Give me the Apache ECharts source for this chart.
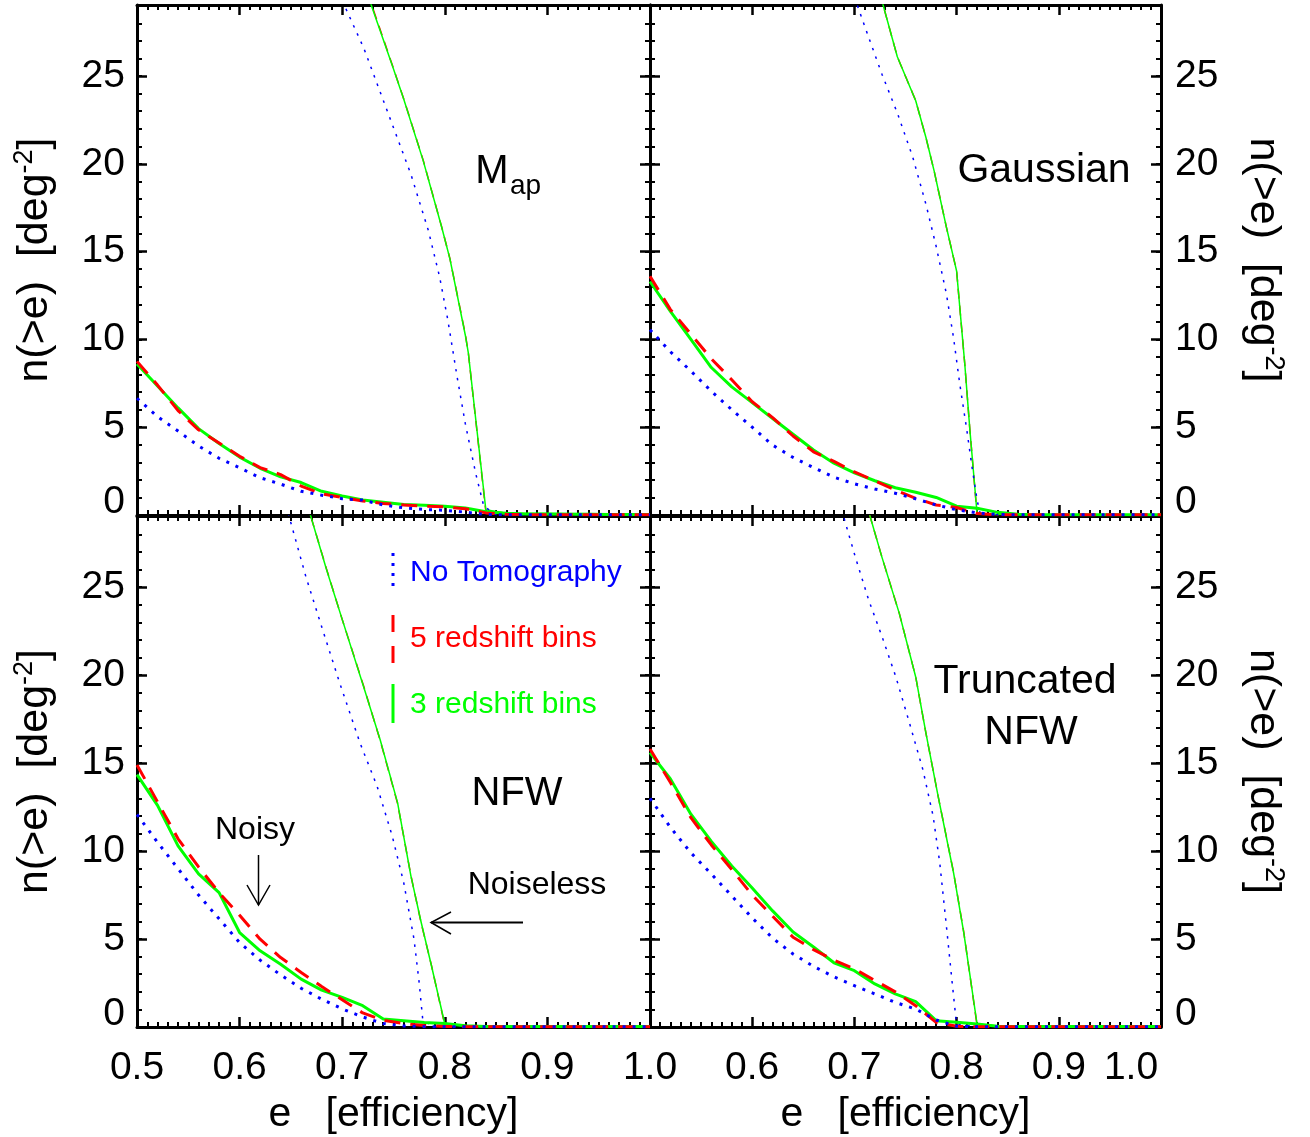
<!DOCTYPE html>
<html><head><meta charset="utf-8">
<script src="https://cdn.jsdelivr.net/npm/echarts@6/dist/echarts.min.js"></script>
<style>html,body{margin:0;padding:0;background:#fff;} #c{width:1310px;height:1137px;}</style>
</head><body><div id="c"></div>
<script>
// ---------- DATA ----------
// efficiency grid of the noisy curves
const E_GRID = [0.50,0.52,0.54,0.56,0.58,0.60,0.62,0.64,0.66,0.68,0.70,0.72,0.74,0.76,0.78,0.80,0.82,0.84,0.86,0.88,0.90,0.92,0.94,0.96,0.98,1.00];

// Panel 1: M_ap
const mapNoisyBlue  = [6.65,5.6,4.78,3.93,3.23,2.69,2.12,1.76,1.35,1.13,0.93,0.85,0.57,0.41,0.31,0.27,0.16,0.03,0.01,0.01,0.01,0.01,0.01,0.01,0.01,0.01];
const mapNoisyRed   = [8.75,7.4,5.95,4.85,4.1,3.35,2.7,2.3,1.65,1.2,1.0,0.8,0.66,0.57,0.5,0.46,0.36,0.12,0.04,0.02,0.02,0.02,0.02,0.02,0.02,0.02];
const mapNoisyGreen = [8.6,7.35,6.1,4.92,4.07,3.3,2.66,2.17,1.85,1.35,1.08,0.85,0.72,0.6,0.55,0.5,0.4,0.19,0.1,0.06,0.05,0.04,0.04,0.03,0.03,0.03];
const mapCleanBlueE  = [0.70,0.721,0.744,0.767,0.784,0.795,0.803,0.812,0.820,0.830,0.838,0.85,1.00];
const mapCleanBlueN  = [29.3,26.6,23.0,19.4,16.2,13.55,11.09,7.87,5.2,2.4,0.5,0.02,0.01];
const mapCleanRedE   = [0.725,0.749,0.760,0.779,0.797,0.805,0.820,0.823,0.840,0.86,1.00];
const mapCleanRedN   = [29.7,25.6,23.7,20.2,16.4,14.6,10.3,9.2,0.2,0.05,0.02];
const mapCleanGreenE = [0.725,0.749,0.760,0.779,0.797,0.805,0.820,0.823,0.840,0.86,1.00];
const mapCleanGreenN = [29.6,25.57,23.68,20.17,16.39,14.59,10.24,9.2,0.3,0.1,0.05];

// Panel 2: Gaussian
const gauNoisyBlue  = [10.55,9.3,8.2,7.05,6.0,5.0,3.98,3.28,2.7,2.15,1.78,1.48,1.24,0.92,0.57,0.3,0.12,0.03,0.01,0.01,0.01,0.01,0.01,0.01,0.01,0.01];
const gauNoisyRed   = [13.6,11.7,10.3,8.9,7.7,6.45,5.55,4.5,3.6,3.05,2.45,1.95,1.42,0.95,0.57,0.43,0.08,0.01,0.01,0.01,0.01,0.01,0.01,0.01,0.01,0.01];
const gauNoisyGreen = [13.3,11.6,10.0,8.4,7.3,6.4,5.5,4.6,3.7,2.95,2.4,1.95,1.55,1.3,1.0,0.5,0.38,0.15,0.04,0.02,0.02,0.02,0.02,0.02,0.02,0.02];
const gauCleanBlueE  = [0.70,0.714,0.727,0.742,0.757,0.770,0.780,0.790,0.797,0.803,0.810,0.815,0.820,0.823,0.84,1.00];
const gauCleanBlueN  = [29.5,27.2,25.1,22.9,20.4,17.7,15.3,12.6,10.1,7.5,4.84,2.76,0.87,0.1,0.02,0.01];
const gauCleanRedE   = [0.725,0.742,0.760,0.770,0.778,0.790,0.798,0.800,0.808,0.813,0.820,0.84,1.00];
const gauCleanRedN   = [29.7,26.1,23.6,21.5,19.6,16.4,14.4,13.9,8.6,4.84,0.05,0.01,0.01];
const gauCleanGreenE = [0.725,0.742,0.760,0.770,0.778,0.790,0.798,0.800,0.808,0.813,0.820,0.84,1.00];
const gauCleanGreenN = [29.7,26.1,23.6,21.5,19.6,16.4,14.4,13.9,8.6,4.84,0.1,0.03,0.02];

// Panel 3: NFW
const nfwNoisyBlue  = [12.08,10.5,9.0,7.5,6.15,4.8,3.8,2.96,2.2,1.58,1.03,0.57,0.2,0.06,0.02,0.01,0.01,0.01,0.01,0.01,0.01,0.01,0.01,0.01,0.01,0.01];
const nfwNoisyRed   = [14.9,12.8,10.7,9.1,7.64,6.35,4.99,3.95,3.1,2.3,1.55,0.8,0.38,0.2,0.08,0.03,0.01,0.01,0.01,0.01,0.01,0.01,0.01,0.01,0.01,0.01];
const nfwNoisyGreen = [14.35,12.6,10.3,8.7,7.64,5.37,4.33,3.57,2.72,2.1,1.68,1.21,0.45,0.36,0.26,0.2,0.07,0.03,0.03,0.03,0.03,0.03,0.03,0.03,0.03,0.03];
const nfwCleanBlueE  = [0.645,0.6646,0.681,0.6976,0.7174,0.734,0.7488,0.760,0.770,0.775,0.7786,0.79,1.00];
const nfwCleanBlueN  = [29.7,25.6,22.57,19.55,16.14,13.69,10.85,8.2,4.99,2.53,0.36,0.02,0.01];
const nfwCleanRedE   = [0.665,0.6844,0.6993,0.7208,0.737,0.754,0.767,0.777,0.787,0.800,0.82,1.00];
const nfwCleanRedN   = [29.9,26.1,23.3,19.4,16.3,12.7,8.6,5.9,3.5,0.1,0.02,0.01];
const nfwCleanGreenE = [0.665,0.6844,0.6993,0.7208,0.737,0.754,0.767,0.777,0.787,0.800,0.82,1.00];
const nfwCleanGreenN = [29.9,26.07,23.3,19.36,16.33,12.74,8.58,5.94,3.48,0.17,0.05,0.04];

// Panel 4: Truncated NFW
const tnfwNoisyBlue  = [13.0,11.35,9.9,8.7,7.45,6.2,5.05,4.15,3.45,2.85,2.35,1.88,1.4,1.02,0.4,0.04,0.01,0.01,0.01,0.01,0.01,0.01,0.01,0.01,0.01,0.01];
const tnfwNoisyRed   = [15.8,13.9,11.9,10.35,8.95,7.5,6.3,5.1,4.4,3.8,3.3,2.65,2.0,1.21,0.26,0.04,0.01,0.01,0.01,0.01,0.01,0.01,0.01,0.01,0.01,0.01];
const tnfwNoisyGreen = [15.6,14.1,12.1,10.55,9.15,7.9,6.6,5.4,4.55,3.65,3.2,2.45,1.88,1.44,0.36,0.27,0.17,0.04,0.03,0.03,0.03,0.03,0.03,0.03,0.03,0.03];
const tnfwCleanBlueE  = [0.685,0.701,0.714,0.727,0.7406,0.7538,0.767,0.777,0.7835,0.790,0.795,0.7984,0.800,0.82,1.00];
const tnfwCleanBlueN  = [29.9,26.7,24.27,22.2,19.9,17.3,14.63,12.0,9.34,5.75,2.9,1.0,0.17,0.02,0.01];
const tnfwCleanRedE   = [0.71,0.727,0.744,0.760,0.770,0.782,0.797,0.807,0.820,0.84,1.00];
const tnfwCleanRedN   = [30.1,26.7,23.5,19.9,16.7,13.1,8.8,5.4,0.1,0.02,0.01];
const tnfwCleanGreenE = [0.71,0.727,0.744,0.760,0.770,0.782,0.797,0.807,0.820,0.84,1.00];
const tnfwCleanGreenN = [30.1,26.7,23.5,19.9,16.7,13.1,8.77,5.37,0.17,0.05,0.04];

// axis ranges / ticks
const X_MIN = 0.5, X_MAX = 1.0, X_STEP = 0.1;
const Y_MIN = 0, Y_MAX = 29.05, Y_STEP = 5;
const X_TITLE = 'e   [efficiency]';
const Y_TITLE = '{t|n(>e)  [deg}{s|-2}{t|]}';
const LEGEND_LABELS = ['No Tomography', '5 redshift bins', '3 redshift bins'];

// ---------- STYLE ----------
const FONT = '"Liberation Sans", Arial, Helvetica, sans-serif';
const BLACK = '#000';
const BLUE = '#0000ff', RED = '#ff0000', GREEN = '#00ff00';

const grids = [
  {left:137, top:5,   width:513, height:510},
  {left:650, top:5,   width:511, height:510},
  {left:137, top:516, width:513, height:511},
  {left:650, top:516, width:511, height:511}
].map(g => Object.assign(g, {outerBoundsMode:'none', containLabel:false}));

const xAxes = [], yAxes = [];
for (let g = 0; g < 4; g++) {
  const bottomRow = g >= 2;
  const rightCol = g % 2 === 1;
  ['bottom','top'].forEach(pos => {
    const lab = bottomRow && pos === 'bottom';
    xAxes.push({
      gridIndex:g, type:'value', position:pos, min:X_MIN, max:X_MAX, interval:X_STEP,
      axisLine:{show:true, onZero:false, lineStyle:{color:BLACK, width:3}},
      axisTick:{show:true, inside:true, length:10, lineStyle:{color:BLACK, width:2.5}},
      minorTick:{show:true, splitNumber:10, length:5, lineStyle:{color:BLACK, width:2}},
      splitLine:{show:false}, minorSplitLine:{show:false},
      axisLabel:{show:lab, margin:22, fontSize:39, fontFamily:FONT, color:BLACK,
        formatter: v => {
          if (rightCol && v < X_MIN + 0.05) return '';
          if (rightCol && v > X_MAX - 0.05) return '{r|' + v.toFixed(1) + '}';
          return v.toFixed(1);
        },
        rich:{r:{fontSize:39, fontFamily:FONT, color:BLACK, padding:[0,60,0,0]}}},
      name: lab ? X_TITLE : '', nameLocation:'middle', nameGap:67, nameMoveOverlap:false,
      nameTextStyle:{fontSize:41, fontFamily:FONT, color:BLACK}
    });
  });
  ['left','right'].forEach(pos => {
    const lab = (pos === 'left') !== rightCol;
    yAxes.push({
      gridIndex:g, type:'value', position:pos, min:Y_MIN, max:Y_MAX, interval:Y_STEP,
      axisLine:{show:true, onZero:false, lineStyle:{color:BLACK, width:3}},
      axisTick:{show:true, inside:true, length:10, lineStyle:{color:BLACK, width:2.5}},
      splitLine:{show:false},
      axisLabel:{show:lab, margin:pos === 'left' ? 12 : 14, fontSize:39, fontFamily:FONT, color:BLACK,
        formatter: v => (Math.abs(v % Y_STEP) > 1e-6 || v > 25) ? '' : (v === 0 ? '{z|0}' : String(v)),
        rich:{z:{fontSize:39, fontFamily:FONT, color:BLACK, padding:[0,0,26,0]}}},
      name: lab ? Y_TITLE : '', nameLocation:'middle', nameRotate: pos === 'left' ? 90 : -90,
      nameGap:78, nameMoveOverlap:false,
      nameTextStyle:{color:BLACK, fontFamily:FONT, fontSize:43,
        rich:{t:{fontSize:43, fontFamily:FONT, color:BLACK, lineHeight:48},
              s:{fontSize:27, fontFamily:FONT, color:BLACK, lineHeight:27, verticalAlign:'top'}}}
    });
    // minor ticks every 1 unit
    yAxes.push({
      gridIndex:g, type:'value', position:pos, min:Y_MIN, max:Y_MAX, interval:1,
      axisLine:{show:false}, axisTick:{show:true, inside:true, length:5, lineStyle:{color:BLACK, width:2}},
      splitLine:{show:false}, axisLabel:{show:false}
    });
  });
}

const zip = (xs, ys) => xs.map((x, i) => [x, ys[i]]);
function line(g, xs, ys, color, width, type) {
  return {type:'line', xAxisIndex:2*g, yAxisIndex:4*g, data:zip(xs, ys), symbol:'none', showSymbol:false,
    clip:true, silent:true, animation:false,
    lineStyle:{color:color, width:width, type:type, cap:'butt', join:'round'}, itemStyle:{color:color}};
}
const DOT_B = [3, 7], DASH_R = [16, 10];
const DOT_T = [2.5, 6.5], DASH_T = [10, 7];

const panels = [
  {blue:mapNoisyBlue, red:mapNoisyRed, green:mapNoisyGreen, cb:[mapCleanBlueE,mapCleanBlueN], cr:[mapCleanRedE,mapCleanRedN], cg:[mapCleanGreenE,mapCleanGreenN]},
  {blue:gauNoisyBlue, red:gauNoisyRed, green:gauNoisyGreen, cb:[gauCleanBlueE,gauCleanBlueN], cr:[gauCleanRedE,gauCleanRedN], cg:[gauCleanGreenE,gauCleanGreenN]},
  {blue:nfwNoisyBlue, red:nfwNoisyRed, green:nfwNoisyGreen, cb:[nfwCleanBlueE,nfwCleanBlueN], cr:[nfwCleanRedE,nfwCleanRedN], cg:[nfwCleanGreenE,nfwCleanGreenN]},
  {blue:tnfwNoisyBlue, red:tnfwNoisyRed, green:tnfwNoisyGreen, cb:[tnfwCleanBlueE,tnfwCleanBlueN], cr:[tnfwCleanRedE,tnfwCleanRedN], cg:[tnfwCleanGreenE,tnfwCleanGreenN]}
];
const series = [];
panels.forEach((p, g) => {
  series.push(line(g, p.cr[0], p.cr[1], RED, 1.5, DASH_T));
  series.push(line(g, p.cg[0], p.cg[1], GREEN, 1.5, 'solid'));
  series.push(line(g, p.cb[0], p.cb[1], BLUE, 1.5, DOT_T));
  series.push(line(g, E_GRID, p.green, GREEN, 3, 'solid'));
  series.push(line(g, E_GRID, p.red, RED, 3, DASH_R));
  series.push(line(g, E_GRID, p.blue, BLUE, 3, DOT_B));
});

function txt(x, y, text, size, color, align) {
  return {type:'text', x:x, y:y, z:100, silent:true,
    style:{text:text, fontSize:size, fontFamily:FONT, fill:color || BLACK, align:align || 'center', verticalAlign:'middle'}};
}
function seg(x1, y1, x2, y2, color, width, dash) {
  return {type:'line', z:100, silent:true, shape:{x1:x1, y1:y1, x2:x2, y2:y2},
    style:{stroke:color, lineWidth:width, lineDash:dash || null}};
}
function poly(points, color, width) {
  return {type:'polyline', z:100, silent:true, shape:{points:points}, style:{stroke:color, lineWidth:width, fill:null}};
}

const graphic = [
  // panel labels
  txt(492, 172, 'M', 40),
  txt(510, 186, 'ap', 28, BLACK, 'left'),
  txt(1044, 171, 'Gaussian', 41),
  txt(517, 794, 'NFW', 40),
  txt(1025, 682, 'Truncated', 41),
  txt(1031, 733, 'NFW', 41),
  // legend
  seg(393, 553, 393, 590, BLUE, 3, [3, 7]),
  txt(410, 573, LEGEND_LABELS[0], 30, BLUE, 'left'),
  seg(393, 615, 393, 663, RED, 3, [17, 14]),
  txt(410, 639, LEGEND_LABELS[1], 30, RED, 'left'),
  seg(393, 684, 393, 723, GREEN, 3, null),
  txt(410, 705, LEGEND_LABELS[2], 30, GREEN, 'left'),
  // annotations
  txt(255, 830, 'Noisy', 32),
  seg(258.5, 855, 258.5, 905, BLACK, 1.5),
  poly([[247, 885], [258.5, 905], [270, 885]], BLACK, 1.5),
  txt(537, 885, 'Noiseless', 32),
  seg(431, 922.5, 523, 922.5, BLACK, 1.8),
  poly([[451, 912], [431, 922.5], [451, 934]], BLACK, 1.5)
];

const chart = echarts.init(document.getElementById('c'), null, {renderer:'canvas'});
chart.setOption({
  backgroundColor:'#fff',
  animation:false,
  grid:grids, xAxis:xAxes, yAxis:yAxes, series:series, graphic:graphic
});
</script></body></html>
